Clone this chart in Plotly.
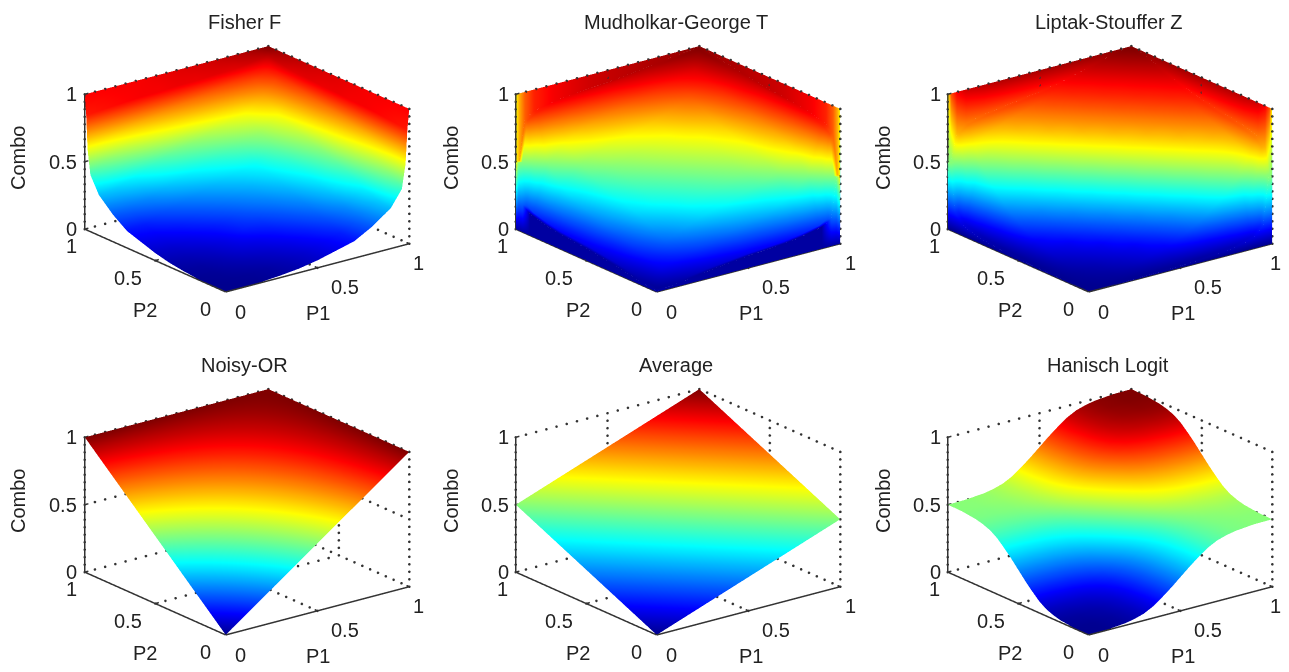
import numpy as np
import plotly.graph_objects as go

# The page has an 8 px body margin, so the figure is smaller and positions are page pixels minus 8.
PAGE_OFFSET = 8
W, H = 1289 - PAGE_OFFSET, 672 - 2 * PAGE_OFFSET
TITLES = ["Fisher F", "Mudholkar-George T", "Liptak-Stouffer Z", "Noisy-OR", "Average", "Hanisch Logit"]
TICKS = [0, 0.5, 1]
TICK_TEXT = ["0", "0.5", "1"]

FISHER_P = [0, .1, .2, .3, .4, .5, .6, .7, .8, .9, .96, .98, .99, 1]
FISHER_Z = [
 [0, .001, .005, .015, .03, .055, .09, .125, .2, .3, .42, .6, .85, 1],
 [.001, .005, .01, .02, .04, .065, .1, .14, .22, .32, .5, .63, .86, 1],
 [.005, .01, .025, .04, .06, .09, .13, .18, .25, .36, .56, .67, .87, 1],
 [.015, .02, .04, .07, .09, .125, .17, .22, .3, .42, .62, .7, .88, 1],
 [.03, .04, .06, .09, .14, .165, .21, .26, .34, .47, .66, .73, .88, 1],
 [.055, .065, .09, .125, .165, .21, .25, .3, .38, .5, .69, .75, .89, 1],
 [.09, .1, .13, .17, .21, .25, .29, .34, .42, .54, .72, .77, .89, 1],
 [.125, .14, .18, .22, .26, .3, .34, .375, .47, .58, .74, .79, .9, 1],
 [.2, .22, .25, .3, .34, .38, .42, .47, .52, .62, .77, .82, .9, 1],
 [.3, .32, .36, .42, .47, .5, .54, .58, .62, .72, .8, .85, .92, 1],
 [.42, .5, .56, .62, .66, .69, .72, .74, .77, .8, .85, .88, .93, 1],
 [.6, .63, .67, .7, .73, .75, .77, .79, .82, .85, .88, .92, .95, 1],
 [.85, .86, .87, .88, .88, .89, .89, .9, .9, .92, .93, .95, .96, 1],
 [1, 1, 1, 1, 1, 1, 1, 1, 1, 1, 1, 1, 1, 1],
]
FISHER_EDGE = [.875, .875, .88, .88, .89, .9, .91, .92, .94, .96, .98, .99, 1, 1]

CORE_P = [.02, .05, .1, .2, .3, .4, .5, .6, .7, .8, .9, .95, .98]
MG_CORE = [
 [.01, .015, .02, .04, .06, .075, .09, .1, .11, .13, .16, .2, .5],
 [.015, .03, .045, .07, .1, .12, .15, .17, .2, .24, .3, .5, .8],
 [.02, .045, .09, .13, .17, .2, .24, .27, .31, .37, .5, .7, .84],
 [.04, .07, .13, .21, .27, .32, .36, .4, .44, .5, .63, .76, .87],
 [.06, .1, .17, .27, .32, .38, .42, .46, .5, .56, .69, .8, .89],
 [.075, .12, .2, .32, .38, .42, .46, .5, .54, .6, .73, .83, .9],
 [.09, .15, .24, .36, .42, .46, .5, .54, .58, .64, .76, .85, .91],
 [.1, .17, .27, .4, .46, .5, .54, .58, .62, .68, .8, .88, .925],
 [.11, .2, .31, .44, .5, .54, .58, .62, .68, .73, .83, .9, .94],
 [.13, .24, .37, .5, .56, .6, .64, .68, .73, .79, .87, .93, .96],
 [.16, .3, .5, .63, .69, .73, .76, .8, .83, .87, .91, .955, .98],
 [.2, .5, .7, .76, .8, .83, .85, .88, .9, .93, .955, .97, .985],
 [.5, .8, .84, .87, .89, .9, .91, .925, .94, .96, .98, .985, .99],
]
MG_EDGE = [.62, .62, .7, .78, .84, .88, .9, .92, .93, .94, .95, .96, .97, .98, .99, 1, 1]

LS_CORE = [
 [.001, .002, .003, .005, .008, .01, .015, .02, .03, .045, .08, .15, .5],
 [.002, .003, .006, .012, .02, .03, .045, .07, .1, .15, .25, .5, .7],
 [.003, .006, .01, .02, .04, .07, .1, .17, .25, .36, .5, .62, .75],
 [.005, .012, .02, .04, .07, .1, .17, .25, .36, .5, .61, .68, .78],
 [.008, .02, .04, .07, .1, .17, .25, .36, .5, .61, .7, .73, .8],
 [.01, .03, .07, .1, .17, .25, .36, .5, .61, .7, .75, .775, .82],
 [.015, .045, .1, .17, .25, .36, .5, .61, .7, .75, .8, .82, .84],
 [.02, .07, .17, .25, .36, .5, .61, .7, .75, .8, .84, .855, .865],
 [.03, .1, .25, .36, .5, .61, .7, .75, .8, .84, .87, .89, .9],
 [.045, .15, .36, .5, .61, .7, .75, .8, .84, .87, .91, .93, .94],
 [.08, .25, .5, .61, .7, .75, .8, .84, .87, .91, .95, .965, .975],
 [.15, .5, .62, .68, .73, .775, .82, .855, .89, .93, .965, .98, .99],
 [.5, .7, .75, .78, .8, .82, .84, .865, .9, .94, .975, .99, .995],
]
LS_EDGE = [.62, .62, .8, .88, .92, .94, .95, .955, .96, .965, .97, .975, .98, .99, .995, 1, 1]

NOISY_P = [0, .25, .5, .75, 1]
NOISY_Z = [
 [0, .25, .5, .75, 1],
 [.25, .4375, .625, .8125, 1],
 [.5, .625, .75, .875, 1],
 [.75, .8125, .875, .9375, 1],
 [1, 1, 1, 1, 1],
]
AVG_P = [0, .5, 1]
AVG_Z = [[0, .25, .5], [.25, .5, .75], [.5, .75, 1]]

HAN_P = [0, .1, .2, .25, .3, .35, .4, .45, .5, .55, .6, .65, .7, .75, .8, .9, 1]
HAN_Z = [
 [0, .003, .015, .029, .05, .085, .135, .19, .25, .31, .365, .415, .45, .471, .485, .498, .5],
 [.003, .005, .018, .032, .053, .088, .138, .193, .253, .313, .368, .418, .453, .474, .488, .5, .503],
 [.015, .018, .03, .044, .065, .1, .15, .205, .265, .325, .38, .43, .465, .486, .5, .513, .515],
 [.029, .032, .044, .058, .079, .114, .164, .219, .279, .339, .394, .444, .479, .5, .514, .527, .529],
 [.05, .053, .065, .079, .1, .135, .185, .24, .3, .36, .415, .465, .5, .521, .535, .548, .55],
 [.085, .088, .1, .114, .135, .17, .22, .275, .335, .395, .45, .5, .535, .556, .57, .583, .585],
 [.135, .138, .15, .164, .185, .22, .27, .325, .385, .445, .5, .55, .585, .606, .62, .633, .635],
 [.19, .193, .205, .219, .24, .275, .325, .38, .44, .5, .555, .605, .64, .661, .675, .688, .69],
 [.25, .253, .265, .279, .3, .335, .385, .44, .5, .56, .615, .665, .7, .721, .735, .748, .75],
 [.31, .313, .325, .339, .36, .395, .445, .5, .56, .62, .675, .725, .76, .781, .795, .808, .81],
 [.365, .368, .38, .394, .415, .45, .5, .555, .615, .675, .73, .78, .815, .836, .85, .863, .865],
 [.415, .418, .43, .444, .465, .5, .55, .605, .665, .725, .78, .83, .865, .886, .9, .913, .915],
 [.45, .453, .465, .479, .5, .535, .585, .64, .7, .76, .815, .865, .9, .921, .935, .948, .95],
 [.471, .474, .486, .5, .521, .556, .606, .661, .721, .781, .836, .886, .921, .942, .956, .969, .971],
 [.485, .488, .5, .514, .535, .57, .62, .675, .735, .795, .85, .9, .935, .956, .97, .983, .985],
 [.498, .5, .513, .527, .548, .583, .633, .688, .748, .808, .863, .913, .948, .969, .983, .995, .998],
 [.5, .503, .515, .529, .55, .585, .635, .69, .75, .81, .865, .915, .95, .971, .985, .998, 1],
]

JET = [[0, "#00008f"], [.111, "#0000ff"], [.365, "#00ffff"], [.619, "#ffff00"], [.873, "#ff0000"], [1, "#800000"]]


def flapped(core, edge, solid):
    z = np.pad(np.array(core, float), 1, mode="edge")
    z = np.pad(z, 1, constant_values=0)
    z[-1, :] = 1
    z[:, -1] = 1
    z[0, -1] = z[-1, 0] = .5
    c = z.copy()
    e = np.array(edge)
    c[-1, :] = e
    c[:, -1] = e
    if solid:
        c[-2, 1:-1] = e[1:-1]
        c[1:-1, -2] = e[1:-1]
        low = z <= .17
        c[0:2, :][low[0:2, :]] = .02
        c[:, 0:2][low[:, 0:2]] = .02
    c[0, -1] = c[-1, 0] = .5
    return z, c


FLAP_P = [0, .001] + CORE_P + [.999, 1]
fz = np.array(FISHER_Z, float)
fc = fz.copy()
fc[-1, :] = FISHER_EDGE
fc[:, -1] = FISHER_EDGE
mz, mc = flapped(MG_CORE, MG_EDGE, True)
lz, lc = flapped(LS_CORE, LS_EDGE, False)
SURFACES = [
    (FISHER_P, fz, fc),
    (FLAP_P, mz, mc),
    (FLAP_P, lz, lc),
    (NOISY_P, np.array(NOISY_Z), np.array(NOISY_Z)),
    (AVG_P, np.array(AVG_Z), np.array(AVG_Z)),
    (HAN_P, np.array(HAN_Z), np.array(HAN_Z)),
]

LEFT_X = [83, 516, 948]
FRONT_Y = [290, 633]
DW, DH = 350, 304
CX = [246.5, 678, 1110]
CY = [169, 512]
SCALE = 1.465 * 316 / 304
D = 2.5
EYE = dict(x=-.572 * D, y=-.745 * D, z=.342 * D)
LINE = "#333333"
DOTS = np.arange(0, 1.001, 1 / 18)

fig = go.Figure()
annotations = []
for k, (p, z, c) in enumerate(SURFACES):
    col, row = k % 3, k // 3
    sid = "scene" if k == 0 else f"scene{k + 1}"
    fig.add_trace(go.Surface(x=p, y=p, z=z, surfacecolor=c, cmin=0, cmax=1, colorscale=JET,
                             showscale=False, hoverinfo="skip",
                             lighting=dict(ambient=1, diffuse=0, specular=0, roughness=1, fresnel=0),
                             scene=sid))
    one = np.ones_like(DOTS)
    segs = []
    for t in TICKS[1:]:
        segs += [(one, DOTS, t * one), (DOTS, one, t * one), (t * one, DOTS, 0 * one), (DOTS, t * one, 0 * one)]
    for t in TICKS:
        segs += [(one, t * one, DOTS), (t * one, one, DOTS)]
    fig.add_trace(go.Scatter3d(x=np.concatenate([s[0] for s in segs]), y=np.concatenate([s[1] for s in segs]),
                               z=np.concatenate([s[2] for s in segs]), mode="markers",
                               marker=dict(color=LINE, size=1.5, line=dict(width=0)),
                               hoverinfo="skip", showlegend=False, scene=sid))
    xs, ys, zs = [0, 1, None, 0, 0, None, 0, 0, None], [0, 0, None, 0, 1, None, 1, 1, None], [0, 0, None, 0, 0, None, 0, 1, None]
    for t in TICKS:
        xs += [t, t, None, 0, .02, None, 0, .02, None]
        ys += [0, .02, None, t, t, None, 1, 1, None]
        zs += [0, 0, None, 0, 0, None, t, t, None]
    fig.add_trace(go.Scatter3d(x=xs, y=ys, z=zs, mode="lines", line=dict(color=LINE, width=3),
                               hoverinfo="skip", showlegend=False, scene=sid))
    ann3d = []
    fnt = dict(family="Liberation Sans, Arial, sans-serif", size=20, color="#222222")
    p1_last_shift = 3 if col == 2 else 10
    for t, s, (sx, sy), (px, py) in zip(TICKS, TICK_TEXT, [(15, 20), (28, 19), (p1_last_shift, 19)], [(-20, 17), (-27, 17), (-13, 17)]):
        ann3d.append(dict(x=t, y=0, z=0, text=s, showarrow=False, font=fnt, xshift=sx, yshift=-sy))
        ann3d.append(dict(x=0, y=t, z=0, text=s, showarrow=False, font=fnt, xshift=px, yshift=-py))
        ann3d.append(dict(x=0, y=1, z=t, text=s, showarrow=False, font=fnt, xanchor="right", xshift=-5))
    cx, cy = CX[col], CY[row]
    dx, dy = cx - PAGE_OFFSET, cy - PAGE_OFFSET
    fig.update_layout({sid: dict(
        domain=dict(x=[(dx - DW / 2) / W, (dx + DW / 2) / W], y=[1 - (dy + DH / 2) / H, 1 - (dy - DH / 2) / H]),
        aspectmode="manual", aspectratio=dict(x=SCALE, y=SCALE, z=.62 * SCALE),
        camera=dict(eye=EYE, center=dict(x=0, y=0, z=0), up=dict(x=0, y=0, z=1), projection=dict(type="orthographic")),
        xaxis=dict(visible=False, range=[0, 1]), yaxis=dict(visible=False, range=[0, 1]), zaxis=dict(visible=False, range=[0, 1]),
        bgcolor="white", annotations=ann3d)})
    lx, fy = LEFT_X[col], FRONT_Y[row]
    annotations += [
        dict(x=cx - 2, y=fy - 268, text=TITLES[k], showarrow=False, font=fnt),
        dict(x=lx + 235, y=fy + 23, text="P1", showarrow=False, font=fnt),
        dict(x=lx + 62, y=fy + 20, text="P2", showarrow=False, font=fnt),
        dict(x=lx - 65, y=fy - 132, text="Combo", textangle=-90, showarrow=False, font=fnt),
    ]
for a in annotations:
    a.update(xref="paper", yref="paper", x=(a["x"] - PAGE_OFFSET) / W, y=1 - (a["y"] - PAGE_OFFSET) / H,
             xanchor="center", yanchor="middle")
fig.update_layout(width=W, height=H, margin=dict(l=0, r=0, t=0, b=0), paper_bgcolor="white",
                  showlegend=False, annotations=annotations)
fig.write_html("out.html")
